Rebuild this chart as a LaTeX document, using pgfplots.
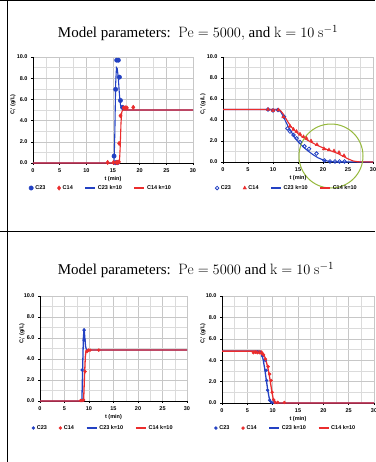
\documentclass[border=0pt]{standalone}
\usepackage{fontspec}
\usepackage{pgfplots}
\pgfplotsset{compat=1.18}
\newfontfamily\arialf{Liberation Sans}
\newfontfamily\titlef{Liberation Serif}
\newcommand\tickfont{\arialf\bfseries\fontsize{5.5}{6.5}\selectfont}
\definecolor{mblue}{RGB}{35,65,195}
\definecolor{mred}{RGB}{235,45,45}
\definecolor{mgreen}{RGB}{150,185,60}
\pgfplotsset{
 mystyle/.style={
  scale only axis,
  xmin=0,xmax=30,ymin=0,ymax=10,
  xtick={0,5,...,30}, ytick={0,2,...,10},
  minor x tick num=1, minor y tick num=1,
  grid=both,
  major grid style={draw=black!22, line width=0.45pt},
  minor grid style={draw=black!14, line width=0.45pt},
  axis x line*=bottom, axis y line*=left,
  axis line style={black, line width=0.8pt},
  tick align=outside, major tick length=2pt, minor tick length=0pt,
  tick style={black, line width=0.5pt},
  ticklabel style={font=\tickfont},
  /pgf/number format/assume math mode=true,
  y tick label style={/pgf/number format/.cd, fixed, fixed zerofill, precision=1},
  xlabel={t (min)}, ylabel={C\textsubscript{i}' (g/L)},
  label style={font=\tickfont},
  x label style={at={(axis description cs:0.5,0)}, yshift=-16pt, anchor=center},
  legend columns=4,
  legend style={draw=none, fill=none, font=\tickfont, anchor=center,
    /tikz/every even column/.append style={column sep=10pt}},
  linelegend/.style={legend image code/.code={\draw[##1] (0pt,0pt) -- (10pt,0pt);}},
  marklegend/.style={legend image code/.code={\draw[##1] plot coordinates {(3pt,0pt)};}},
  clip=false,
 }
}
\begin{document}
\begin{tikzpicture}
\useasboundingbox (0pt,0pt) rectangle (375pt,462pt);
\fill[white] (0pt,0pt) rectangle (375pt,462pt);
% table borders
\draw[line width=1.2pt] (0pt,461.4pt) -- (375pt,461.4pt);
\draw[line width=1.0pt] (7.3pt,0pt) -- (7.3pt,462pt);
\draw[line width=1.0pt] (0pt,230.2pt) -- (375pt,230.2pt);
% titles
\node[font=\titlef\fontsize{15}{17}\selectfont] at (198pt,429pt) {Model parameters:\ \ $\mathrm{Pe}=5000,$ and $\mathrm{k}=10\ \mathrm{s}^{-1}$};
\node[font=\titlef\fontsize{15}{17}\selectfont] at (196pt,192pt) {Model parameters:\ \ $\mathrm{Pe}=5000$ and $\mathrm{k}=10\ \mathrm{s}^{-1}$};

% ---- top left
\begin{axis}[mystyle, at={(33pt,299pt)}, anchor=south west, width=160pt, height=106pt,
  y label style={at={(axis description cs:-0.125,0.55)}, anchor=center},
  legend style={at={(axis description cs:0.425,-0.236)}}]
\addplot[only marks, mark=*, mark size=2.2pt, mblue, marklegend] coordinates {
 (15.2,0.65) (15.5,6.95) (15.7,9.7) (16.0,9.7) (16.2,8.1) (16.4,5.9) (16.8,5.25) (15.5,0.03) (15.8,0.03)};
\addlegendentry{C23}
\addplot[only marks, mark=diamond*, mark size=2.2pt, mred, marklegend] coordinates {
 (14.0,0.05) (15.1,0.05) (15.6,0.05) (15.9,0.05) (16.1,0.1) (16.15,1.85) (16.4,4.45) (17.0,5.2) (17.3,5.2) (17.6,5.2) (18.8,5.25)};
\addlegendentry{C14}
\addplot[mblue, line width=1.1pt, linelegend] coordinates {
 (0,0) (15.2,0) (15.35,3) (15.5,7.5) (15.65,9.0) (15.8,8.9) (16.0,8.0) (16.2,6.5) (16.4,5.5) (16.6,5.15) (17,5.0) (30,5.0)};
\addlegendentry{C23 k=10}
\addplot[mred, line width=1.1pt, linelegend] coordinates {
 (0,0) (16.2,0) (16.35,1.5) (16.5,3.8) (16.65,4.8) (16.8,5.0) (30,5.0)};
\addlegendentry{C14 k=10}
\end{axis}

% ---- top right
\begin{axis}[mystyle, at={(223pt,300pt)}, anchor=south west, width=150pt, height=105pt,
  y label style={at={(axis description cs:-0.133,0.55)}, anchor=center},
  legend style={at={(axis description cs:0.427,-0.248)}}]
\addplot[only marks, mark=o, mark size=1.8pt, line width=0.8pt, mblue, marklegend] coordinates {
 (9.0,5.0) (10.0,4.9) (11.0,4.95) (12.2,4.3) (12.9,3.2) (13.4,2.9) (14.1,2.57) (14.7,2.25) (15.4,1.9) (16.3,1.5) (17.2,1.25) (18.7,0.8) (20.3,0.15) (21.4,0.05) (22.4,0.05) (23.3,0.05) (24.3,0.05)};
\addlegendentry{C23}
\addplot[only marks, mark=triangle*, mark size=2pt, mred, marklegend] coordinates {
 (9.0,5.0) (10.0,4.9) (11.1,4.95) (12.1,4.3) (13.4,3.4) (14.1,3.1) (14.7,2.9) (15.4,2.65) (16.1,2.4) (16.7,2.25) (17.6,2.0) (18.8,1.65) (20.2,1.25) (21.2,1.15) (22.2,1.05) (23.2,0.9) (24.2,0.6)};
\addlegendentry{C14}
\addplot[mblue, line width=1.1pt, linelegend] coordinates {
 (0,5) (11,5) (11.5,4.8) (12,4.4) (12.5,3.9) (13,3.4) (13.5,3.0) (14,2.6) (14.5,2.25) (15,1.95) (16,1.45) (17,1.05) (18,0.7) (19,0.4) (20,0.2) (21,0.08) (22,0.02) (23,0) (30,0)};
\addlegendentry{C23 k=10}
\addplot[mred, line width=1.1pt, linelegend] coordinates {
 (0,5) (11,5) (11.5,4.9) (12,4.6) (12.5,4.2) (13,3.8) (13.5,3.45) (14,3.15) (15,2.7) (16,2.35) (17,2.05) (18,1.8) (19,1.55) (20,1.35) (21,1.15) (22,1.0) (23,0.8) (24,0.55) (25,0.3) (26,0.1) (27,0.02) (30,0)};
\addlegendentry{C14 k=10}
\draw[mgreen, line width=1pt] (axis cs:21.6,0.57) circle[radius=32pt];
\end{axis}

% ---- bottom left
\begin{axis}[mystyle, at={(40pt,61pt)}, anchor=south west, width=147pt, height=105pt,
  y label style={at={(axis description cs:-0.122,0.64)}, anchor=center},
  legend style={at={(axis description cs:0.43,-0.257)}}]
\addplot[only marks, mark=*, mark size=1.5pt, mblue, marklegend] coordinates {
 (8.5,0.05) (8.8,0.1) (8.6,2.95) (9.0,5.8) (9.0,6.75)};
\addlegendentry{C23}
\addplot[only marks, mark=*, mark size=1.5pt, mred, marklegend] coordinates {
 (8.3,0.05) (8.6,0.05) (8.9,0.1) (9.2,2.8) (9.6,4.7) (9.9,4.85) (10.2,4.85) (12.0,4.85)};
\addlegendentry{C14}
\addplot[mblue, line width=1.3pt, linelegend] coordinates {
 (0,0) (8.55,0) (8.7,3) (8.85,6.0) (9.0,6.9) (9.15,6.0) (9.3,5.2) (9.5,4.85) (30,4.85)};
\addlegendentry{C23 k=10}
\addplot[mred, line width=1.3pt, linelegend] coordinates {
 (0,0) (8.9,0) (9.05,2) (9.25,4.2) (9.4,4.8) (9.6,4.85) (30,4.85)};
\addlegendentry{C14 k=10}
\end{axis}

% ---- bottom right
\begin{axis}[mystyle, at={(222pt,59pt)}, anchor=south west, width=152pt, height=107pt,
  y label style={at={(axis description cs:-0.125,0.65)}, anchor=center},
  legend style={at={(axis description cs:0.42,-0.234)}}]
\addplot[only marks, mark=*, mark size=1.5pt, mblue, marklegend] coordinates {
 (7.0,4.75) (7.5,4.7) (8.0,4.4) (8.5,4.0) (8.7,3.05) (8.8,2.1) (9.0,1.2) (9.4,0.25) (9.8,0.05) (10.3,0.05)};
\addlegendentry{C23}
\addplot[only marks, mark=*, mark size=1.5pt, mred, marklegend] coordinates {
 (6.2,4.7) (6.6,4.75) (7.0,4.7) (7.4,4.7) (7.8,4.65) (8.2,4.5) (8.6,4.1) (9.1,3.4) (9.4,2.7) (9.7,2.1) (9.9,1.0) (10.2,0.3) (10.5,0.05) (11.0,0.05) (12.3,0.05)};
\addlegendentry{C14}
\addplot[mblue, line width=1.3pt, linelegend] coordinates {
 (0,4.85) (7.5,4.85) (7.8,4.6) (8.1,4.1) (8.4,3.3) (8.7,2.3) (9.0,1.3) (9.3,0.5) (9.6,0.1) (10,0) (30,0)};
\addlegendentry{C23 k=10}
\addplot[mred, line width=1.3pt, linelegend] coordinates {
 (0,4.85) (7.8,4.85) (8.2,4.6) (8.6,4.1) (9.0,3.4) (9.4,2.4) (9.8,1.2) (10.1,0.4) (10.5,0.05) (11,0) (30,0)};
\addlegendentry{C14 k=10}
\end{axis}
\end{tikzpicture}
\end{document}
